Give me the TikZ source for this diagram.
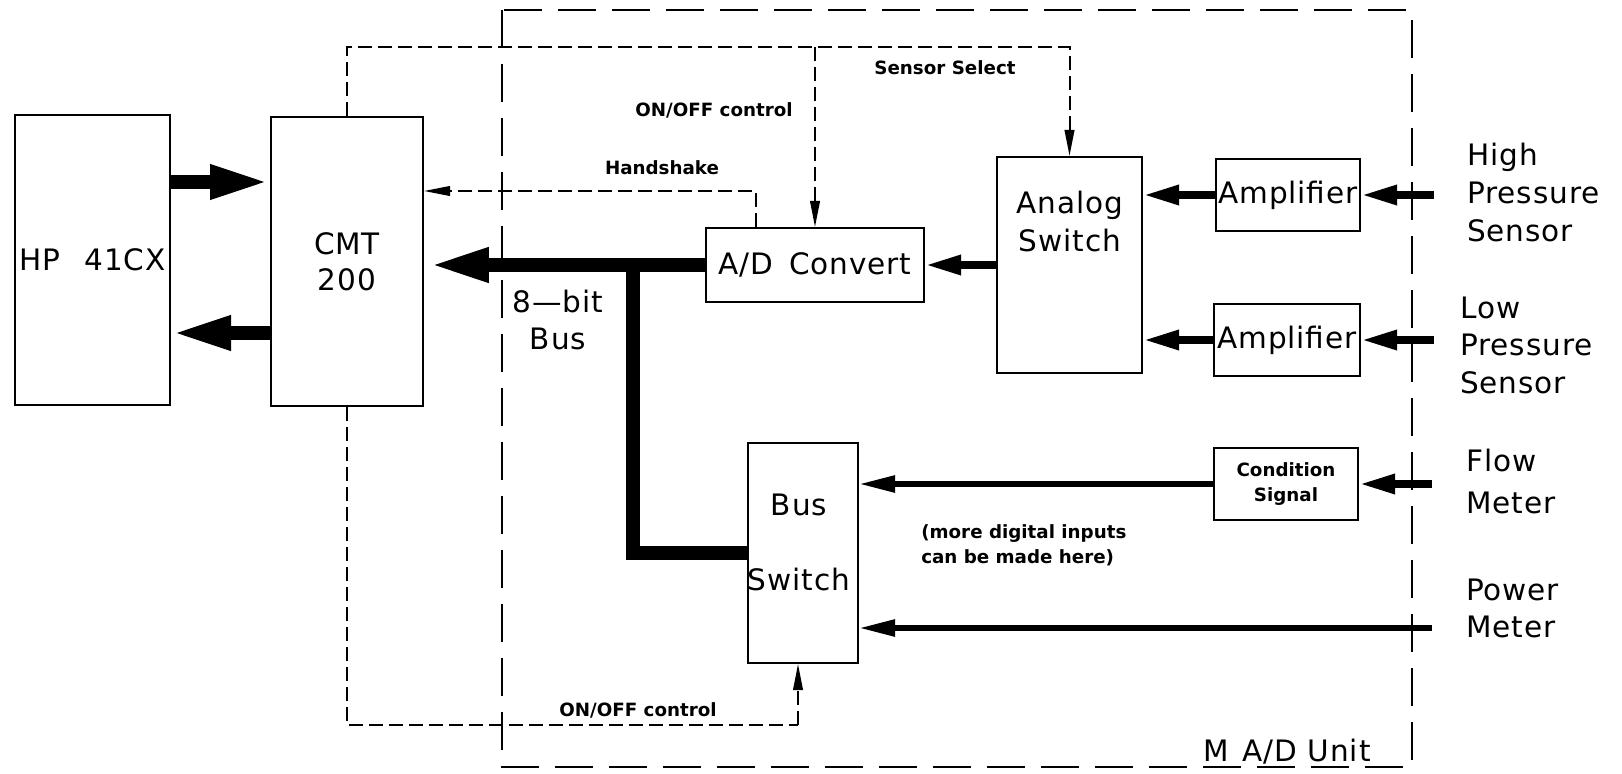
\documentclass[tikz,border=0pt]{standalone}
\usepackage{fontspec}
\usetikzlibrary{arrows.meta}
\newfontfamily\lblfont[LetterSpace=3]{DejaVu Sans}
\newfontfamily\smlfont{DejaVu Sans}
\newcommand\biglbl{\lblfont\fontsize{21}{26.7}\selectfont}
\newcommand\smllbl{\smlfont\bfseries\fontsize{13}{17.5}\selectfont}
\begin{document}
\begin{tikzpicture}[x=0.25mm,y=-0.25mm,
  box/.style={draw, line width=0.5mm, inner sep=0pt, font=\biglbl, align=center},
  lbl/.style={inner sep=0pt, font=\biglbl, align=center},
  sml/.style={inner sep=0pt, font=\smllbl, align=center},
  bigarr/.style={line width=3.5mm, -{Triangle[length=15mm,width=7.8mm]}},
  busline/.style={line width=3.5mm, line join=miter},
  medarr/.style={line width=1.9mm, -{Triangle[length=9mm,width=4.6mm]}},
  thinarr/.style={line width=1.4mm, -{Triangle[length=9mm,width=4mm]}},
  ctrl/.style={line width=0.5mm, dash pattern=on 3.5mm off 1.5mm},
  ctrlarr/.style={ctrl, -{Triangle[length=6.5mm,width=2.4mm]}},
  outerbox/.style={line width=0.5mm, dash pattern=on 9.5mm off 4mm}
]
\fill[white] (0,0) rectangle (1622,774);
\useasboundingbox (0,0) rectangle (1622,774);

% outer unit box
\draw[outerbox] (502,10) rectangle (1412,767);
\node[lbl] (unit) at (1287,752) {M\hspace{3.5mm}A/D Unit};

% boxes
\node[box, minimum width=38.75mm, minimum height=72.5mm] (hp) at (92.5,260) {HP\hspace{6mm}41CX};
\node[box, minimum width=38mm, minimum height=72.25mm] (cmt) at (347,261.5) {CMT\\[-0.4mm]200};
\node[box, minimum width=54.5mm, minimum height=18.5mm] (ad) at (815,265) {A/D\hspace{4mm}Convert};
\node[box, minimum width=36.25mm, minimum height=54mm] (as) at (1069.5,265) {};
\node[lbl] (astext) at (1070,221.5) {Analog\\Switch};
\node[box, minimum width=36mm, minimum height=18mm] (amp1) at (1288,195) {Amplifier};
\node[box, minimum width=36.5mm, minimum height=18mm] (amp2) at (1287,340) {Amplifier};
\node[box, minimum width=27.5mm, minimum height=55mm] (bs) at (803,553) {};
\node[lbl] (bstext) at (799,542.5) {Bus\\[9.3mm]Switch};
\node[box, minimum width=36mm, minimum height=18mm, font=\smllbl] (cs) at (1286,484) {Condition\\Signal};

% outside labels
\node[lbl, anchor=west, align=left] (hps) at (1467,192.5) {High\\Pressure\\Sensor};
\node[lbl, anchor=west, align=left] (lps) at (1460,345) {Low\\Pressure\\Sensor};
\node[lbl, anchor=west, align=left] (flow) at (1466,481.5) {Flow\\[1.2mm]Meter};
\node[lbl, anchor=west, align=left] (power) at (1466,608.5) {Power\\Meter};
\node[lbl] (bitbus) at (558,320) {8\textemdash bit\\Bus};
\node[sml] (hs) at (662,168) {Handshake};
\node[sml] (onoff1) at (714,110) {ON/OFF control};
\node[sml] (ss) at (945,68) {Sensor Select};
\node[sml] (onoff2) at (638,710) {ON/OFF control};
\node[sml, anchor=west, align=left] (more) at (921,545) {(more digital inputs\\can be made here)};

% HP <-> CMT
\draw[bigarr] (hp.east |- 0,182) -- (cmt.west |- 0,182);
\draw[bigarr] (cmt.west |- 0,333) -- (hp.east |- 0,333);

% 8-bit bus
\draw[bigarr, shorten >=1.2mm] (ad.west) -- (ad.west -| cmt.east);
\coordinate (j) at (633,265);
\draw[busline] (j) |- (bs.west);

% analog chain
\draw[medarr] (as.west) -- (ad.east);
\draw[medarr] (amp1.west) -- (amp1.west -| as.east);
\draw[medarr] (amp2.west) -- (amp2.west -| as.east);
\coordinate (hpin) at (1434,195);
\coordinate (lpin) at (1434,340);
\draw[medarr] (hpin) -- (amp1.east);
\draw[medarr] (lpin) -- (amp2.east);

% digital chain
\coordinate (flowin) at (1432,484);
\coordinate (pwin) at (1432,628);
\draw[medarr] (flowin) -- (cs.east);
\draw[thinarr] (cs.west) -- (cs.west -| bs.east);
\draw[thinarr] (pwin) -- (pwin -| bs.east);

% control lines
\draw[ctrlarr] (cmt.north) -- (cmt.north |- 0,47) -| (as.north);
\draw[ctrlarr] (ad.north |- 0,47) -- (ad.north);
\draw[ctrlarr] (ad.north -| 756,0) |- (cmt.east |- 0,191);
\draw[ctrl] (cmt.south) |- (798,725);
\draw[ctrlarr] (798,725) -- (bs.south -| 798,0);
\end{tikzpicture}
\end{document}
